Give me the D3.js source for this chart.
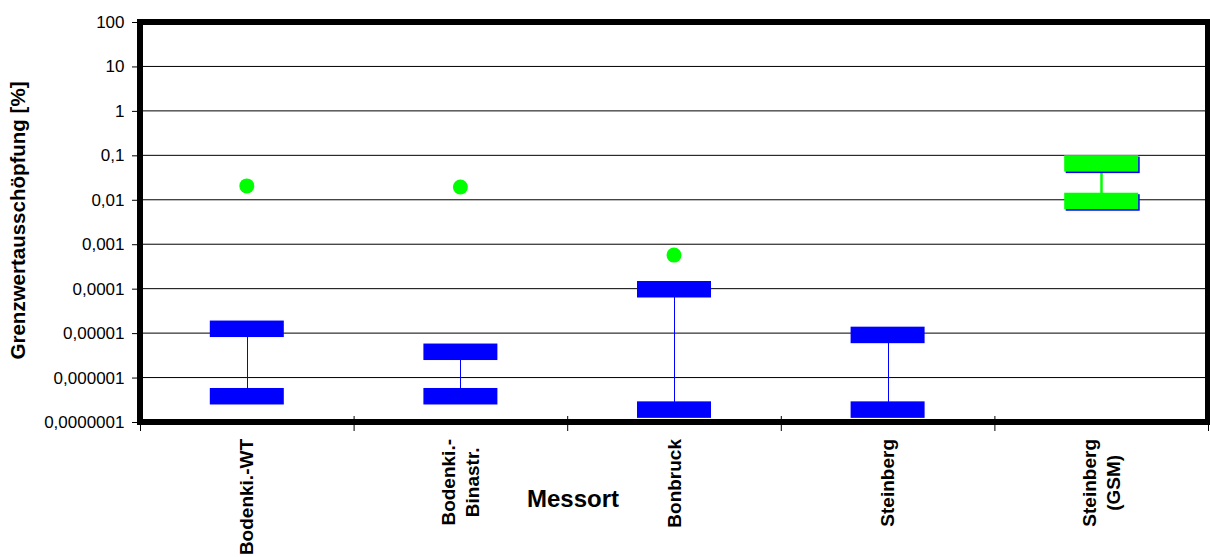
<!DOCTYPE html>
<html>
<head>
<meta charset="utf-8">
<script src="https://cdn.jsdelivr.net/npm/d3@7"></script>
<style>
  html, body { margin: 0; padding: 0; background: #fff; }
  svg { display: block; font-family: "Liberation Sans", Arial, sans-serif; }
</style>
</head>
<body>
<svg id="chart" width="1210" height="557"></svg>
<script>
// ---- data ----
const categories = [["Bodenki.-WT"], ["Bodenki.-", "Binastr."], ["Bonbruck"], ["Steinberg"], ["Steinberg", "(GSM)"]];
const highValues = [1.25e-5, 3.8e-6, 9.7e-5, 9.1e-6, 0.066];
const lowValues  = [3.8e-7, 3.8e-7, 1.9e-7, 1.9e-7, 0.0094];
const pointValues = [0.0205, 0.0194, 0.00057, null, null];
const seriesKind = ["blue", "blue", "blue", "blue", "green"];
const yTickValues = [1e-7, 1e-6, 1e-5, 1e-4, 1e-3, 1e-2, 1e-1, 1, 10, 100];
const yTickLabels = ["0,0000001", "0,000001", "0,00001", "0,0001", "0,001", "0,01", "0,1", "1", "10", "100"];
const yTitle = "Grenzwertausschöpfung [%]";
const xTitle = "Messort";

// ---- layout ----
const pL = 140, pR = 1208, pT = 22, pB = 422;
const svg = d3.select("#chart");

const x = d3.scaleBand().domain(d3.range(categories.length)).range([pL, pR]).paddingInner(0).paddingOuter(0);
const y = d3.scaleLog().domain([1e-7, 100]).range([pB, pT]);
const cx = i => x(i) + x.bandwidth() / 2;

// gridlines
svg.append("g").selectAll("line")
  .data(yTickValues.slice(1, -1))
  .join("line")
  .attr("x1", pL).attr("x2", pR)
  .attr("y1", d => y(d)).attr("y2", d => y(d))
  .attr("stroke", "#000").attr("stroke-width", 1);

// y axis ticks + labels
const yAxis = d3.axisLeft(y)
  .tickValues(yTickValues)
  .tickFormat((d, i) => yTickLabels[i])
  .tickSizeOuter(0)
  .tickSizeInner(8)
  .tickPadding(8);
const gy = svg.append("g").attr("transform", `translate(${pL},0)`).call(yAxis);
gy.select(".domain").remove();
gy.selectAll(".tick line").attr("stroke", "#000");
gy.selectAll(".tick text")
  .attr("font-size", "17px")
  .attr("fill", "#000")
  .attr("font-family", "'Liberation Sans', Arial, sans-serif")
  .attr("x", -15.5);

// x axis category boundary ticks
const bounds = d3.range(categories.length + 1).map(i => i < categories.length ? x(i) : pR);
svg.append("g").selectAll("line")
  .data(bounds)
  .join("line")
  .attr("x1", d => d + 0.5).attr("x2", d => d + 0.5)
  .attr("y1", pB - 6).attr("y2", pB + 9)
  .attr("stroke", "#000").attr("stroke-width", 1);

// whiskers
svg.append("g").selectAll("line")
  .data(d3.range(categories.length))
  .join("line")
  .attr("x1", i => Math.round(cx(i)) + 0.5).attr("x2", i => Math.round(cx(i)) + 0.5)
  .attr("y1", i => y(highValues[i])).attr("y2", i => y(lowValues[i]))
  .attr("stroke", i => seriesKind[i] === "green" ? "#00ff00" : "#0000ff")
  .attr("stroke-width", i => seriesKind[i] === "green" ? 2.5 : 1);

// bar markers
const bw = 74, bh = 16.5;
const markers = [];
d3.range(categories.length).forEach(i => {
  markers.push({ i, v: highValues[i] });
  markers.push({ i, v: lowValues[i] });
});
// blue shadow for green markers
svg.append("g").selectAll("rect")
  .data(markers.filter(m => seriesKind[m.i] === "green"))
  .join("rect")
  .attr("x", m => cx(m.i) - bw / 2 + 1.5)
  .attr("y", m => y(m.v) - bh / 2 + 1.5)
  .attr("width", bw).attr("height", bh)
  .attr("fill", "#0000ff");
svg.append("g").selectAll("rect")
  .data(markers)
  .join("rect")
  .attr("x", m => cx(m.i) - bw / 2)
  .attr("y", m => y(m.v) - bh / 2)
  .attr("width", bw).attr("height", bh)
  .attr("fill", m => seriesKind[m.i] === "green" ? "#00ff00" : "#0000ff");

// green points
svg.append("g").selectAll("circle")
  .data(d3.range(categories.length).filter(i => pointValues[i] != null))
  .join("circle")
  .attr("cx", i => cx(i))
  .attr("cy", i => y(pointValues[i]))
  .attr("r", 7.5)
  .attr("fill", "#00ff00");

// plot frame
svg.append("rect")
  .attr("x", pL).attr("y", pT)
  .attr("width", pR - pL).attr("height", pB - pT)
  .attr("fill", "none").attr("stroke", "#000").attr("stroke-width", 6);

// x category labels (rotated, multi-line centered, block top-aligned)
const labelTop = 439, lineGap = 24, fsX = 19;
categories.forEach((lines, i) => {
  const g = svg.append("g");
  const texts = lines.map((t, k) => g.append("text")
    .attr("font-size", fsX + "px")
    .attr("font-weight", "bold")
    .attr("fill", "#000")
    .attr("text-anchor", "middle")
    .text(t));
  const widths = texts.map(t => t.node().getComputedTextLength());
  const maxW = d3.max(widths);
  const n = lines.length;
  texts.forEach((t, k) => {
    const bx = cx(i) + (k - (n - 1) / 2) * lineGap + fsX * 0.35;
    const by = labelTop + maxW / 2;
    t.attr("transform", `translate(${bx},${by}) rotate(-90)`);
  });
});

// axis titles
svg.append("text")
  .attr("transform", "translate(25,220.5) rotate(-90)")
  .attr("text-anchor", "middle")
  .attr("font-size", "20.5px")
  .attr("font-weight", "bold")
  .attr("fill", "#000")
  .text(yTitle);

svg.append("text")
  .attr("x", 573).attr("y", 507)
  .attr("text-anchor", "middle")
  .attr("font-size", "24px")
  .attr("font-weight", "bold")
  .attr("fill", "#000")
  .text(xTitle);
</script>
</body>
</html>
